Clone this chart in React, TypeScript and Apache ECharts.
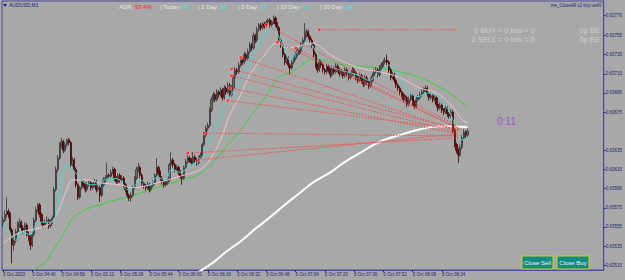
import React, { useEffect, useRef } from "react";
import * as echarts from "echarts";

// ---------- DATA ----------
// M1 candles from 04:24, prices in points (1 point = 0.00001): [open, close, low, high]
const candles: number[][] = [
  [63558,63562,63555,63566],[63562,63568,63560,63572],[63568,63571,63565,63586],[63571,63568,63564,63574],
  [63568,63552,63549,63570],[63552,63536,63517,63554],[63536,63541,63530,63545],[63541,63550,63538,63553],
  [63550,63557,63548,63561],[63557,63560,63554,63564],[63560,63554,63551,63562],[63554,63552,63548,63557],
  [63552,63557,63550,63560],[63557,63547,63545,63559],[63547,63544,63540,63550],[63544,63536,63531,63546],
  [63536,63547,63534,63550],[63547,63562,63545,63565],[63562,63573,63560,63576],[63573,63578,63570,63580],
  [63578,63568,63565,63580],[63568,63560,63557,63570],[63560,63557,63554,63562],[63557,63560,63555,63563],
  [63560,63562,63558,63566],[63562,63556,63553,63564],[63556,63560,63554,63563],[63560,63564,63558,63567],
  [63564,63594,63562,63597],[63594,63615,63592,63618],[63615,63627,63612,63630],[63627,63641,63625,63643],
  [63641,63644,63637,63648],[63644,63635,63632,63646],[63635,63641,63633,63644],[63641,63646,63638,63647],
  [63646,63643,63640,63648],[63643,63620,63617,63645],[63620,63625,63618,63628],[63625,63615,63612,63627],
  [63615,63599,63596,63617],[63599,63586,63583,63601],[63586,63596,63584,63598],[63596,63602,63594,63605],
  [63602,63599,63596,63604],[63599,63594,63591,63601],[63594,63599,63592,63602],[63599,63601,63597,63604],
  [63601,63596,63593,63603],[63596,63598,63594,63601],[63598,63602,63596,63605],[63602,63594,63591,63604],
  [63594,63596,63592,63599],[63596,63588,63581,63598],[63588,63599,63586,63601],[63599,63604,63597,63607],
  [63604,63606,63602,63609],[63606,63609,63604,63622],[63609,63608,63605,63611],[63608,63612,63606,63615],
  [63612,63615,63610,63618],[63615,63606,63603,63617],[63606,63602,63599,63608],[63602,63609,63600,63611],
  [63609,63604,63601,63611],[63604,63606,63602,63609],[63606,63599,63596,63608],[63599,63594,63591,63601],
  [63594,63588,63585,63596],[63588,63585,63582,63590],[63585,63588,63581,63591],[63588,63596,63586,63598],
  [63596,63606,63594,63608],[63606,63615,63604,63618],[63615,63617,63612,63622],[63617,63609,63606,63619],
  [63609,63601,63598,63611],[63601,63598,63595,63603],[63598,63596,63593,63600],[63596,63599,63594,63602],
  [63599,63594,63591,63601],[63594,63598,63592,63600],[63598,63601,63596,63604],[63601,63609,63599,63611],
  [63609,63617,63607,63627],[63617,63612,63609,63619],[63612,63606,63603,63614],[63606,63602,63599,63608],
  [63602,63599,63596,63604],[63599,63601,63597,63603],[63601,63604,63599,63606],[63604,63620,63602,63622],
  [63620,63625,63618,63633],[63625,63620,63617,63627],[63620,63615,63612,63622],[63615,63617,63613,63620],
  [63617,63612,63609,63619],[63612,63608,63605,63614],[63608,63606,63599,63610],[63606,63617,63604,63619],
  [63617,63623,63615,63626],[63623,63627,63621,63630],[63627,63625,63622,63629],[63625,63622,63619,63627],
  [63622,63628,63620,63633],[63628,63625,63622,63630],[63625,63622,63619,63627],[63622,63627,63620,63629],
  [63627,63630,63625,63633],[63630,63641,63628,63643],[63641,63651,63639,63654],[63651,63658,63649,63661],
  [63658,63661,63655,63664],[63661,63677,63659,63680],[63677,63688,63675,63691],[63688,63693,63686,63696],
  [63693,63688,63685,63695],[63688,63696,63686,63699],[63696,63693,63690,63698],[63693,63698,63691,63701],
  [63698,63690,63687,63700],[63690,63700,63688,63703],[63700,63696,63693,63702],[63696,63703,63694,63706],
  [63703,63693,63690,63705],[63693,63700,63691,63703],[63700,63711,63698,63714],[63711,63719,63709,63722],
  [63719,63717,63714,63721],[63717,63724,63715,63727],[63724,63729,63722,63732],[63729,63727,63724,63731],
  [63727,63735,63725,63738],[63735,63731,63728,63737],[63731,63738,63729,63741],[63738,63745,63736,63748],
  [63745,63742,63739,63747],[63742,63755,63740,63758],[63755,63750,63747,63757],[63750,63761,63748,63764],
  [63761,63766,63759,63768],[63766,63763,63760,63768],[63763,63767,63761,63769],[63767,63765,63762,63769],
  [63765,63769,63763,63771],[63769,63771,63767,63773],[63771,63766,63763,63773],[63766,63769,63764,63771],
  [63769,63773,63767,63776],[63773,63767,63764,63775],[63767,63763,63760,63769],[63763,63750,63747,63765],
  [63750,63745,63742,63752],[63745,63735,63732,63747],[63735,63727,63724,63737],[63727,63731,63725,63734],
  [63731,63724,63721,63733],[63724,63721,63714,63726],[63721,63727,63719,63730],[63727,63731,63725,63734],
  [63731,63735,63729,63738],[63735,63740,63733,63743],[63740,63738,63735,63742],[63738,63745,63736,63748],
  [63745,63750,63743,63753],[63750,63755,63748,63768],[63755,63759,63753,63762],[63759,63754,63751,63761],
  [63754,63750,63747,63756],[63750,63745,63742,63752],[63745,63735,63732,63747],[63735,63724,63721,63737],
  [63724,63719,63716,63726],[63719,63727,63717,63730],[63727,63724,63721,63729],[63724,63719,63716,63726],
  [63719,63717,63714,63721],[63717,63723,63715,63726],[63723,63719,63716,63725],[63719,63714,63711,63721],
  [63714,63721,63712,63724],[63721,63717,63714,63723],[63717,63723,63715,63726],[63723,63719,63716,63725],
  [63719,63715,63712,63721],[63715,63717,63713,63720],[63717,63713,63710,63719],[63713,63719,63711,63722],
  [63719,63715,63712,63721],[63715,63711,63708,63717],[63711,63714,63709,63717],[63714,63719,63712,63722],
  [63719,63716,63713,63721],[63716,63711,63708,63718],[63711,63708,63705,63713],[63708,63713,63706,63716],
  [63713,63708,63705,63715],[63708,63704,63701,63710],[63704,63711,63702,63714],[63711,63706,63703,63713],
  [63706,63702,63699,63708],[63702,63708,63700,63711],[63708,63713,63706,63716],[63713,63717,63711,63720],
  [63717,63719,63715,63722],[63719,63714,63711,63721],[63714,63721,63712,63724],[63721,63724,63719,63727],
  [63724,63727,63722,63730],[63727,63729,63725,63732],[63729,63727,63724,63735],[63727,63719,63716,63729],
  [63719,63711,63708,63721],[63711,63714,63709,63717],[63714,63708,63705,63716],[63708,63703,63700,63710],
  [63703,63700,63697,63705],[63700,63696,63693,63702],[63696,63693,63690,63698],[63693,63688,63685,63695],
  [63688,63690,63686,63693],[63690,63683,63680,63692],[63683,63688,63681,63691],[63688,63692,63686,63695],
  [63692,63685,63682,63694],[63685,63681,63678,63687],[63681,63688,63679,63691],[63688,63690,63686,63693],
  [63690,63693,63688,63696],[63693,63696,63691,63699],[63696,63698,63694,63701],[63698,63700,63696,63703],
  [63700,63694,63691,63702],[63694,63690,63687,63696],[63690,63692,63688,63695],[63692,63688,63685,63694],
  [63688,63690,63686,63693],[63690,63683,63680,63692],[63683,63679,63676,63685],[63679,63682,63677,63685],
  [63682,63677,63674,63684],[63677,63675,63672,63679],[63675,63679,63673,63682],[63679,63673,63670,63681],
  [63673,63671,63668,63675],[63671,63675,63669,63678],[63675,63656,63653,63677],[63656,63641,63638,63658],
  [63641,63635,63632,63643],[63635,63630,63622,63637],[63630,63638,63628,63641],[63638,63648,63636,63651],
  [63648,63654,63646,63657],[63654,63651,63648,63656],[63651,63655,63649,63658],
];

// indicator lines: [bar index, price in points]
const maFast: number[][] = [
  [0,63560],[3,63550],[7,63541],[10,63550],[15,63547],[19,63560],[23,63560],[27,63560],[30,63578],[32,63604],
  [35,63620],[40,63611],[44,63602],[49,63599],[53,63601],[58,63606],[64,63604],[68,63594],[71,63596],[75,63604],
  [80,63598],[84,63607],[89,63604],[92,63615],[97,63612],[102,63619],[108,63625],[112,63641],[117,63661],[121,63682],
  [124,63691],[130,63708],[136,63732],[142,63753],[148,63764],[151,63753],[154,63740],[157,63729],[161,63738],[166,63748],
  [169,63745],[173,63732],[179,63723],[184,63719],[190,63716],[195,63713],[200,63708],[206,63717],[211,63724],[216,63714],
  [221,63698],[227,63691],[232,63695],[237,63692],[242,63682],[245,63672],[248,63656],[251,63646],[254,63648],
];
const maMid: number[][] = [
  [0,63538],[9,63549],[20,63554],[26,63559],[30,63571],[35,63594],[38,63604],[46,63604],[53,63601],[64,63599],
  [71,63596],[86,63602],[97,63608],[108,63615],[113,63625],[119,63646],[124,63672],[130,63693],[135,63714],[142,63732],
  [150,63747],[157,63742],[169,63747],[179,63735],[187,63727],[195,63721],[206,63717],[217,63711],[228,63700],[237,63695],
  [246,63680],[251,63667],[254,63664],
];
const maSlow: number[][] = [
  [17,63510],[23,63518],[27,63529],[31,63541],[35,63554],[38,63564],[45,63573],[53,63578],[61,63583],[71,63588],
  [84,63596],[97,63604],[108,63611],[116,63625],[124,63643],[130,63656],[135,63670],[140,63682],[146,63698],[151,63712],
  [157,63716],[162,63722],[169,63730],[177,63729],[184,63725],[195,63723],[206,63721],[217,63717],[228,63711],[239,63701],
  [247,63691],[254,63680],
];
const maLong: number[][] = [
  [107,63508],[115,63518],[122,63529],[130,63540],[138,63553],[146,63565],[154,63578],[162,63590],[170,63602],[179,63612],
  [187,63623],[195,63632],[206,63644],[217,63651],[228,63657],[239,63660],[248,63660],[254,63659],
];

// closed-trade lines: start bar, start price, end bar, end price
const tradeStartIdx = [144, 150, 160, 130, 125, 125, 124, 123, 110, 107, 101, 173];
const tradeStartPrice = [63766, 63748, 63742, 63732, 63720, 63713, 63700, 63687, 63653, 63625, 63632, 63761];
const tradeEndIdx = [249, 249, 250, 249, 250, 248, 249, 250, 249, 248, 249, 248];
const tradeEndPrice = [63660, 63658, 63657, 63655, 63656, 63654, 63652, 63657, 63650, 63652, 63648, 63761];

const askPrice = 63665;
const bidPrice = 63655;

const yTickValues = [0.63776, 0.63755, 0.63735, 0.63715, 0.63695, 0.63675, 0.63635, 0.63615, 0.63595, 0.63575, 0.63555, 0.63535, 0.63515];

const adrItems = [
  { label: "ADR: ", value: "93.4%", red: true },
  { label: "| Today: ", value: "59" },
  { label: "| 1 Day: ", value: "56" },
  { label: "| 5 Day: ", value: "79" },
  { label: "| 10 Day: ", value: "63" },
  { label: "| 20 Day: ", value: "59" },
];

const SLOT_COUNT = 329;
const START_MIN = 4 * 60 + 24;
const Y_MIN = 0.6351;
const Y_MAX = 0.63791;

const FONT = "'Liberation Sans', Arial, sans-serif";
const P = (v: number) => v / 100000;

export default function App() {
  const ref = useRef<HTMLDivElement>(null);
  useEffect(() => {
    document.body.style.margin = "0";
    const chart = echarts.init(ref.current!, undefined, { renderer: "svg" });

    const cats: string[] = [];
    for (let i = 0; i < SLOT_COUNT; i++) {
      const m = START_MIN + i;
      const hh = String(Math.floor(m / 60)).padStart(2, "0");
      const mm = String(m % 60).padStart(2, "0");
      cats.push(hh + ":" + mm);
    }
    const showTime = (index: number) => index % 16 === 0 && index <= 240;

    const tradeSeries: any[] = tradeStartIdx.map((s, k) => ({
      type: "line",
      data: [[s, P(tradeStartPrice[k])], [tradeEndIdx[k], P(tradeEndPrice[k])]],
      symbol: "none",
      silent: true,
      lineStyle: { color: "#ff3c3c", width: 0.9, type: [1.5, 1.5] },
      z: 3,
    }));

    const adrX = [119, 160, 198, 238, 277, 320];

    chart.setOption({
      animation: false,
      backgroundColor: "#a8a8a8",
      grid: { left: 1, right: 21, top: 1, bottom: 10, show: true, borderColor: "#4a4a9c", borderWidth: 1 },
      xAxis: {
        type: "category",
        data: cats,
        boundaryGap: true,
        axisLine: { show: true, lineStyle: { color: "#4a4a9c" } },
        axisTick: { show: true, interval: showTime, alignWithLabel: true, length: 2, lineStyle: { color: "#2a2a80" } },
        axisLabel: {
          interval: showTime,
          formatter: (v: string, i: number) => (i === 0 ? "5 Oct 2023" : "5 Oct " + v),
          fontSize: 4.5,
          color: "#1e1e70",
          align: "left",
          margin: 2,
          fontFamily: FONT,
        },
        splitLine: { show: false },
      },
      yAxis: {
        type: "value",
        position: "right",
        min: Y_MIN,
        max: Y_MAX,
        scale: true,
        axisLine: { show: true, lineStyle: { color: "#4a4a9c" } },
        axisTick: { show: true, customValues: yTickValues, length: 2, lineStyle: { color: "#2a2a80" } },
        axisLabel: {
          customValues: yTickValues,
          formatter: (v: number) => v.toFixed(5),
          fontSize: 4.5,
          color: "#1e1e70",
          margin: 2,
          fontFamily: FONT,
        },
        splitLine: { show: false },
      },
      series: [
        {
          type: "line",
          data: maLong.map((d) => [d[0], P(d[1])]),
          symbol: "none",
          smooth: 0.4,
          lineStyle: { color: "#ffffff", width: 2 },
          z: 2,
        },
        {
          type: "line",
          data: maSlow.map((d) => [d[0], P(d[1])]),
          symbol: "none",
          smooth: 0.4,
          lineStyle: { color: "#3ad03a", width: 1 },
          z: 2,
        },
        {
          type: "candlestick",
          data: candles.map((c) => c.map(P)),
          barWidth: 1.7,
          itemStyle: {
            color: "#6c6c6c",
            color0: "#8a0000",
            borderColor: "#353535",
            borderColor0: "#450000",
            borderWidth: 0.8,
          },
          markLine: {
            symbol: ["none", "none"],
            silent: true,
            data: [
              {
                yAxis: P(askPrice),
                lineStyle: { color: "#c884d2", width: 1, type: "solid" },
                label: {
                  show: true, position: "end", distance: 1, formatter: P(askPrice).toFixed(5),
                  fontSize: 4.5, color: "#f4e4f4", backgroundColor: "#cf8fdc", padding: [1, 2], fontFamily: FONT,
                },
              },
              {
                yAxis: P(bidPrice),
                lineStyle: { color: "#22226a", width: 1, type: "solid" },
                label: {
                  show: true, position: "end", distance: 1, formatter: P(bidPrice).toFixed(5),
                  fontSize: 4.5, color: "#ffffff", backgroundColor: "#14146a", padding: [1, 2], fontFamily: FONT,
                },
              },
            ],
          },
          z: 2,
        },
        {
          type: "line",
          data: maMid.map((d) => [d[0], P(d[1])]),
          symbol: "none",
          smooth: 0.4,
          lineStyle: { color: "#f2c4c8", width: 1 },
          z: 3,
        },
        {
          type: "line",
          data: maFast.map((d) => [d[0], P(d[1])]),
          symbol: "none",
          smooth: 0.3,
          lineStyle: { color: "#3fdcdc", width: 1 },
          z: 3,
        },
        ...tradeSeries,
        {
          type: "scatter",
          data: tradeStartIdx.map((s, k) => [s, P(tradeStartPrice[k])]),
          symbol: "circle",
          symbolSize: 3.5,
          itemStyle: { color: "#ff1a1a", borderColor: "#ffd0d0", borderWidth: 0.6 },
          z: 4,
        },
        {
          type: "scatter",
          data: [[tradeEndIdx[11], P(tradeEndPrice[11])], [tradeEndIdx[5], P(tradeEndPrice[5])]],
          symbol: "triangle",
          symbolSize: 3,
          symbolRotate: 90,
          itemStyle: { color: "#ffa030" },
          z: 4,
        },
      ],
      graphic: [
        { type: "polygon", shape: { points: [[3, 4], [7, 4], [5, 7]] }, style: { fill: "#20207a" } },
        { type: "text", x: 9, y: 2.5, style: { text: "AUDUSD,M1", fontSize: 5, fill: "#20207a", fontFamily: FONT } },
        ...adrItems.map((a, k) => ({
          type: "text",
          x: adrX[k],
          y: 4,
          style: {
            text: "{l|" + a.label + "}{v|" + a.value + "}",
            fontFamily: FONT,
            rich: {
              l: { fontSize: 6, fill: "#e6e6e6", fontFamily: FONT },
              v: { fontSize: 6, fill: a.red ? "#ff2424" : "#3ee6e6", fontFamily: FONT },
            },
          },
        })),
        { type: "text", x: 602, y: 3, style: { text: "me_CloseAll v2 buy-sell©", fontSize: 4.5, fill: "#20207a", align: "right", fontFamily: FONT } },
        { type: "text", x: 535, y: 26, style: { text: "0 BUY = 0 lots = 0", fontSize: 7.5, fill: "#cecece", align: "right", fontFamily: FONT } },
        { type: "text", x: 535, y: 35, style: { text: "0 SELL = 0 lots = 0", fontSize: 7.5, fill: "#cecece", align: "right", fontFamily: FONT } },
        { type: "text", x: 600, y: 26, style: { text: "0p BE", fontSize: 7.5, fill: "#cecece", align: "right", fontFamily: FONT } },
        { type: "text", x: 600, y: 35, style: { text: "0p BE", fontSize: 7.5, fill: "#cecece", align: "right", fontFamily: FONT } },
        { type: "text", x: 497, y: 116.5, style: { text: "0:11", fontSize: 10, fill: "#a04ed0", fontFamily: FONT } },
        { type: "rect", shape: { x: 522, y: 256, width: 31, height: 13 }, style: { fill: "#138a84", stroke: "#cfd020", lineWidth: 1 } },
        { type: "text", x: 537.5, y: 262.5, style: { text: "Close Sell", fontSize: 6, fill: "#eef4ee", align: "center", verticalAlign: "middle", fontFamily: FONT } },
        { type: "rect", shape: { x: 557, y: 256, width: 32, height: 13 }, style: { fill: "#138a84", stroke: "#cfd020", lineWidth: 1 } },
        { type: "text", x: 573, y: 262.5, style: { text: "Close Buy", fontSize: 6, fill: "#eef4ee", align: "center", verticalAlign: "middle", fontFamily: FONT } },
      ],
    });
    return () => chart.dispose();
  }, []);
  return <div ref={ref} style={{ position: "fixed", left: 0, top: 0, width: 625, height: 280 }} />;
}
